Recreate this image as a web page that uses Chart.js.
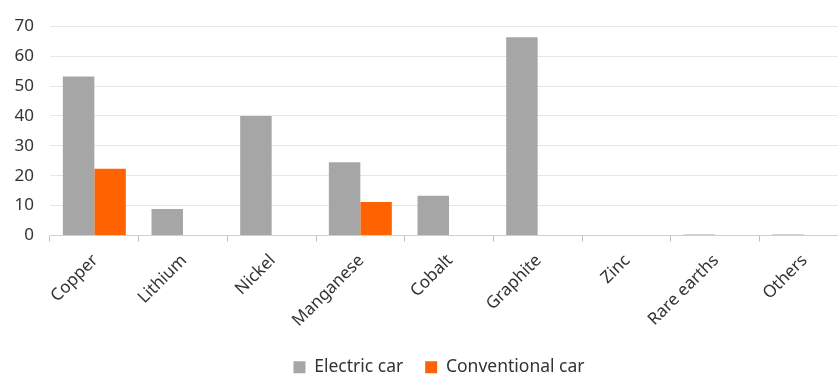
<!DOCTYPE html>
<html>
<head>
<meta charset="utf-8">
<script src="https://cdn.jsdelivr.net/npm/chart.js@4"></script>
<style>
html,body{margin:0;padding:0;overflow:hidden;background:#fff;}
#wrap{width:848px;height:374px;}
</style>
</head>
<body>
<div id="wrap"><canvas id="c" width="848" height="374"></canvas></div>
<script>
const categories = ["Copper","Lithium","Nickel","Manganese","Cobalt","Graphite","Zinc","Rare earths","Others"];
const electricCar = [53.2, 8.9, 40.0, 24.5, 13.3, 66.3, 0, 0.3, 0.3];
const conventionalCar = [22.3, 0, 0, 11.2, 0, 0, 0, 0, 0];
const yTicks = [0,10,20,30,40,50,60,70];

const FONT = "'Noto Sans', 'DejaVu Sans', sans-serif";
const layoutTweak = {
  id: 'layoutTweak',
  afterUpdate(chart){
    const l = chart.legend;
    if(l){ l.left += 15; l.right += 15; l.top += 12; l.bottom += 12; }
    const x = chart.scales.x;
    if(x){ x._computeLabelArea = () => undefined; }
  }
};

new Chart(document.getElementById('c'), {
  type: 'bar',
  data: {
    labels: categories,
    datasets: [
      {label: 'Electric car', data: electricCar, backgroundColor: '#A6A6A6', borderWidth: 0},
      {label: 'Conventional car', data: conventionalCar, backgroundColor: '#FF6200', borderWidth: 0}
    ]
  },
  options: {
    responsive: false,
    animation: false,
    layout: {padding: {top: 5, right: 0, left: 0, bottom: 0}},
    datasets: {bar: {categoryPercentage: 0.71, barPercentage: 1.0}},
    plugins: {
      legend: {
        position: 'bottom',
        labels: {
          font: {family: FONT, size: 17.5},
          color: '#333',
          boxWidth: 12, boxHeight: 12,
          padding: 22
        }
      },
      tooltip: {enabled: false}
    },
    scales: {
      x: {
        grid: {offset: true, drawOnChartArea: false, drawTicks: true, tickLength: 6, color: '#BFBFBF'},
        border: {display: true, color: '#D0D0D0'},
        ticks: {font: {family: FONT, size: 17}, color: '#333', maxRotation: 45, minRotation: 45, padding: 9, labelOffset: 1},
        afterFit(s){ s.height = 89; }
      },
      y: {
        min: 0, max: 70,
        afterBuildTicks(s){ s.ticks = yTicks.map(v => ({value: v})); },
        grid: {color: '#E6E6E6', drawTicks: false},
        border: {display: false},
        ticks: {font: {family: FONT, size: 17}, color: '#333', padding: 16},
        afterFit(s){ s.width = 50; }
      }
    }
  },
  plugins: [layoutTweak]
});
</script>
</body>
</html>
